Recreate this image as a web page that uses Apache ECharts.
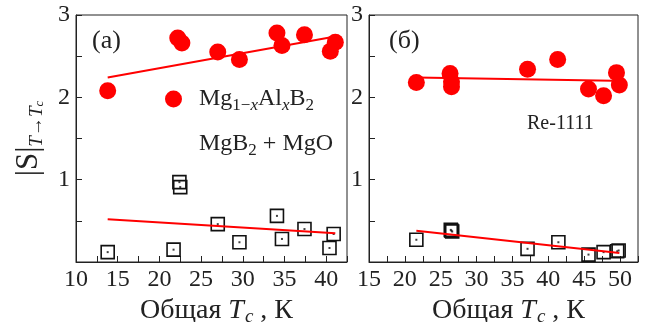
<!DOCTYPE html>
<html><head><meta charset="utf-8">
<script src="https://cdn.jsdelivr.net/npm/echarts@6/dist/echarts.min.js"></script>
<style>html,body{margin:0;padding:0;background:#fff;}#c{width:646px;height:322px;}</style>
</head><body><div id="c"></div>
<script>
// Panel (a): Mg1-xAlxB2 and MgB2+MgO
const aRedX = [13.8, 22.2, 22.7, 27.0, 29.6, 34.1, 34.7, 37.4, 40.5, 41.1];
const aRedY = [2.08, 2.72, 2.66, 2.55, 2.46, 2.78, 2.63, 2.76, 2.56, 2.67];
const aBlkX = [13.8, 21.7, 22.4, 22.5, 27.0, 29.6, 34.1, 34.7, 37.4, 40.4, 40.9];
const aBlkY = [0.12, 0.15, 0.97, 0.91, 0.46, 0.24, 0.56, 0.28, 0.40, 0.17, 0.34];
const aFitRedX = [13.8, 41.1], aFitRedY = [2.24, 2.74];
const aFitBlkX = [13.8, 41.1], aFitBlkY = [0.52, 0.35];
// Panel (б): Re-1111
const bRedX = [21.6, 26.3, 26.5, 26.5, 37.1, 41.3, 45.6, 47.7, 49.5, 49.9];
const bRedY = [2.18, 2.29, 2.19, 2.13, 2.34, 2.46, 2.10, 2.02, 2.30, 2.15];
const bBlkX = [21.6, 26.4, 26.5, 26.6, 37.1, 41.4, 45.6, 47.7, 49.6, 49.8];
const bBlkY = [0.27, 0.39, 0.38, 0.37, 0.16, 0.24, 0.09, 0.12, 0.13, 0.14];
const bFitRedX = [21.6, 49.0], bFitRedY = [2.24, 2.20];
const bFitBlkX = [21.6, 49.9], bFitBlkY = [0.38, 0.11];
// Axes ticks / labels
const aXTicks = [10, 15, 20, 25, 30, 35, 40];
const bXTicks = [15, 20, 25, 30, 35, 40, 45, 50];
const yTicks = [1, 2, 3];
const legendNames = ['Mg1-xAlxB2', 'MgB2 + MgO'];

const zip = (xs, ys) => xs.map((x, i) => [x, ys[i]]);
const FONT = '"Liberation Serif", "Times New Roman", serif';
const INK = '#222';
const RED = '#ff0000';

const subStyles = {
  n: {fontFamily: FONT, fontSize: 24, color: INK, lineHeight: 30, verticalAlign: 'middle'},
  s: {fontFamily: FONT, fontSize: 17, color: INK, lineHeight: 17, verticalAlign: 'bottom'},
  si: {fontFamily: FONT, fontSize: 17, color: INK, lineHeight: 17, fontStyle: 'italic', verticalAlign: 'bottom'},
  sn: {fontFamily: FONT, fontSize: 24, color: INK, lineHeight: 30, verticalAlign: 'middle', padding: [0, 0, 0, 12]}
};

function xAxisFor(grid, min, max, ticks) {
  return {
    gridIndex: grid, type: 'value', min: min, max: max, interval: 2.5,
    axisLine: {show: true, onZero: false, lineStyle: {color: INK, width: 1}},
    axisTick: {show: true, inside: true, length: 6, lineStyle: {color: INK}},
    splitLine: {show: false},
    axisLabel: {
      fontFamily: FONT, fontSize: 24, color: INK, margin: 6,
      formatter: v => ticks.includes(v) ? String(v) : '',
      showMinLabel: true, showMaxLabel: true
    },
    name: '{p|Общая }{i|T}{si|c}{n| , К}',
    nameLocation: 'middle', nameGap: 24,
    nameTextStyle: {fontFamily: FONT, fontSize: 28, color: INK, rich: {
      p: {fontFamily: FONT, fontSize: 28, color: INK, lineHeight: 32, padding: [0, 0, 0, 10]},
      n: {fontFamily: FONT, fontSize: 28, color: INK, lineHeight: 32},
      i: {fontFamily: FONT, fontSize: 28, color: INK, lineHeight: 32, fontStyle: 'italic'},
      si: {fontFamily: FONT, fontSize: 19, color: INK, lineHeight: 12, fontStyle: 'italic', verticalAlign: 'bottom', padding: [0, 0, 0, 1]}
    }}
  };
}
function yAxisFor(grid, withName) {
  const ax = {
    gridIndex: grid, type: 'value', min: 0, max: 3, interval: 0.5,
    axisLine: {show: true, onZero: false, lineStyle: {color: INK, width: 1}},
    axisTick: {show: true, inside: true, length: 6, lineStyle: {color: INK}},
    splitLine: {show: false},
    axisLabel: {
      fontFamily: FONT, fontSize: 24, color: INK, margin: 6,
      formatter: v => yTicks.includes(v) ? String(v) : ''
    }
  };
  if (withName) {
    ax.name = '{n||S|}{si|T→T}{sii|c}';
    ax.nameLocation = 'middle';
    ax.nameGap = 30;
    ax.nameTextStyle = {fontFamily: FONT, fontSize: 30, color: INK, rich: {
      n: {fontFamily: FONT, fontSize: 31, color: INK, lineHeight: 34},
      si: {fontFamily: FONT, fontSize: 19, color: INK, lineHeight: 14, fontStyle: 'italic', verticalAlign: 'bottom'},
      sii: {fontFamily: FONT, fontSize: 13, color: INK, lineHeight: 6, fontStyle: 'italic', verticalAlign: 'bottom'}
    }};
  }
  return ax;
}

function redScatter(name, xi, yi, xs, ys) {
  return {name: name, type: 'scatter', xAxisIndex: xi, yAxisIndex: yi, data: zip(xs, ys),
    symbol: 'circle', symbolSize: 17, itemStyle: {color: RED, opacity: 1}, z: 3};
}
function squareScatter(name, xi, yi, xs, ys) {
  return [{name: name, type: 'scatter', xAxisIndex: xi, yAxisIndex: yi, data: zip(xs, ys),
    symbol: 'rect', symbolSize: 13,
    itemStyle: {color: 'rgba(255,255,255,0)', borderColor: '#111', borderWidth: 1.6, opacity: 1}, z: 3},
    {type: 'scatter', xAxisIndex: xi, yAxisIndex: yi, data: zip(xs, ys), symbol: 'rect', symbolSize: 2,
    itemStyle: {color: '#111'}, z: 3, silent: true}];
}
function fitLine(xi, yi, xs, ys) {
  return {type: 'line', xAxisIndex: xi, yAxisIndex: yi, data: zip(xs, ys), symbol: 'none',
    lineStyle: {color: RED, width: 2}, z: 4, silent: true};
}

const chart = echarts.init(document.getElementById('c'), null, {renderer: 'canvas'});
chart.setOption({
  animation: false,
  backgroundColor: '#fff',
  grid: [
    {left: 76, top: 15, width: 271, height: 247, show: true, borderColor: INK, borderWidth: 1,
     backgroundColor: 'transparent', containLabel: false, outerBoundsMode: 'none'},
    {left: 369, top: 15, width: 269, height: 247, show: true, borderColor: INK, borderWidth: 1,
     backgroundColor: 'transparent', containLabel: false, outerBoundsMode: 'none'}
  ],
  xAxis: [xAxisFor(0, 10, 42.5, aXTicks), xAxisFor(1, 15, 52.5, bXTicks)],
  yAxis: [yAxisFor(0, true), yAxisFor(1, false)],
  legend: {
    orient: 'vertical', left: 160, top: 82, itemGap: 18, itemWidth: 17, itemHeight: 17,
    data: [{name: legendNames[0], icon: 'circle'}, {name: legendNames[1], icon: 'none'}],
    formatter: function (name) {
      if (name === legendNames[0]) return '{sn|Mg}{s|1−}{si|x}{n|Al}{si|x}{n|B}{s|2}';
      return '{sn|MgB}{s|2}{n| + MgO}';
    },
    textStyle: {fontFamily: FONT, fontSize: 24, color: INK, rich: subStyles},
    selectedMode: false
  },
  graphic: [
    {type: 'text', left: 92, top: 28, style: {text: '(a)', font: '26px ' + FONT, fill: INK}},
    {type: 'text', left: 389, top: 28, style: {text: '(б)', font: '26px ' + FONT, fill: INK}},
    {type: 'text', left: 527, top: 114, style: {text: 'Re-1111', font: '20px ' + FONT, fill: INK}}
  ],
  series: [
    redScatter(legendNames[0], 0, 0, aRedX, aRedY),
    ...squareScatter(legendNames[1], 0, 0, aBlkX, aBlkY),
    fitLine(0, 0, aFitRedX, aFitRedY),
    fitLine(0, 0, aFitBlkX, aFitBlkY),
    redScatter('Re-1111 red', 1, 1, bRedX, bRedY),
    ...squareScatter('Re-1111 black', 1, 1, bBlkX, bBlkY),
    fitLine(1, 1, bFitRedX, bFitRedY),
    fitLine(1, 1, bFitBlkX, bFitBlkY)
  ]
});
</script></body></html>
